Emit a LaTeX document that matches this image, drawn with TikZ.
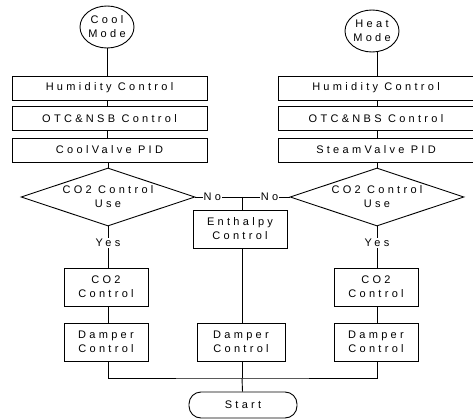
\documentclass[tikz,border=0pt]{standalone}
\usepackage{fontspec}
\newfontfamily\flowfont[LetterSpace=30]{Liberation Sans}
\usetikzlibrary{shapes}
\usetikzlibrary{positioning}
\tikzset{
    modenode/.style = {ellipse, draw=black, line width=0.9pt, align=center, inner sep=0pt, minimum width=54, minimum height=42},
    widebox/.style = {rectangle, draw=black, line width=0.9pt, align=center, minimum width=195, minimum height=24, inner sep=0pt},
    smallbox/.style = {rectangle, draw=black, line width=0.9pt, align=center, minimum width=84, minimum height=38, inner sep=0pt},
    decnode/.style = {diamond, draw=black, line width=0.9pt, align=center, aspect=3, inner sep=0pt, minimum width=174, minimum height=58},
    startnode/.style = {rectangle, rounded corners=12, draw=black, line width=0.9pt, minimum width=108, minimum height=26},
    lbl/.style = {fill=white, inner sep=1pt},
    edgen/.style = {-, line width=0.9pt, black},
    every picture/.style={font issue=\flowfont\fontsize{11}{14}},
    font issue/.style={execute at begin picture={#1\selectfont}}
}
\begin{document}
\begin{tikzpicture}[x=1pt,y=-1pt]
\useasboundingbox (0,0) rectangle (473,419);
%
\node[modenode] at (107,27) (cool) {Cool\\Mode};
\node[widebox] at (109.5,88) (huma) {Humidity Control};
\node[widebox] at (109.5,118.5) (otca) {OTC\&NSB Control};
\node[widebox] at (109.5,150) (valvea) {CoolValve PID};
\node[decnode] at (108,197) (deca) {CO2 Control\\Use};
\node[smallbox] at (106,287) (co2a) {CO2\\Control};
\node[smallbox] at (106,342) (dampa) {Damper\\Control};
%
\node[modenode] at (372,31) (heat) {Heat\\Mode};
\node[widebox] at (376,88) (humb) {Humidity Control};
\node[widebox] at (376,118.5) (otcb) {OTC\&NBS Control};
\node[widebox] at (376,150) (valveb) {SteamValve PID};
\node[decnode] at (377,197) (decb) {CO2 Control\\Use};
\node[smallbox] at (376,287) (co2b) {CO2\\Control};
\node[smallbox] at (376,342) (dampb) {Damper\\Control};
%
\coordinate (jn) at (242,197);
\node[smallbox, minimum width=94] at (240,229) (enth) {Enthalpy\\Control};
\node[smallbox, minimum width=88] at (241,342) (dampm) {Damper\\Control};
\coordinate (bus) at (242,378);
\node[startnode] at (243,405) (start) {Start};
%
\draw[edgen] (cool) edge (cool |- huma.north);
\draw[edgen] (huma.south -| cool) edge (otca.north -| cool);
\draw[edgen] (otca.south -| cool) edge (valvea.north -| cool);
\draw[edgen] (valvea.south -| deca) edge (deca.north);
\draw[edgen] (deca.south) edge node[lbl, pos=0.4] {Yes} (deca.south |- co2a.north);
\draw[edgen] (co2a.south -| deca) edge (dampa.north -| deca);
%
\draw[edgen] (heat.south -| decb) edge (humb.north -| decb);
\draw[edgen] (humb.south -| decb) edge (otcb.north -| decb);
\draw[edgen] (otcb.south -| decb) edge (valveb.north -| decb);
\draw[edgen] (valveb.south -| decb) edge (decb.north);
\draw[edgen] (decb.south) edge node[lbl, pos=0.4] {Yes} (decb.south |- co2b.north);
\draw[edgen] (co2b.south -| decb) edge (dampb.north -| decb);
%
\draw[edgen] (deca.east) edge node[lbl, pos=0.36] {No} (jn);
\draw[edgen] (jn) edge node[lbl, pos=0.58] {No} (decb.west);
\draw[edgen] (jn) edge (jn |- enth.north);
\draw[edgen] (jn |- enth.south) edge (jn |- dampm.north);
%
\draw[edgen] (dampa.south -| deca) |- (bus) -| (dampb.south -| decb);
\draw[edgen] (jn |- dampm.south) edge (bus);
\draw[edgen] (bus) edge (start);
\end{tikzpicture}
\end{document}
